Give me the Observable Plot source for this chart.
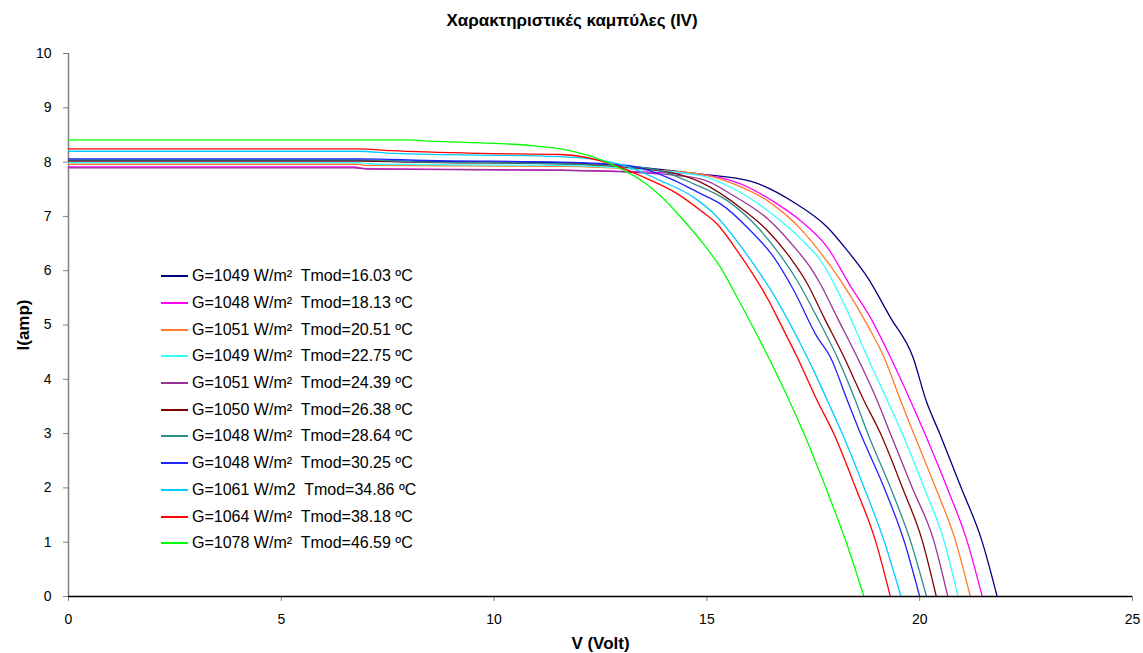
<!DOCTYPE html>
<html>
<head>
<meta charset="utf-8">
<script src="https://cdn.jsdelivr.net/npm/d3@7"></script>
<script src="https://cdn.jsdelivr.net/npm/@observablehq/plot@0.6"></script>
<style>
  html, body { margin: 0; padding: 0; background: #fff; }
  #wrap { position: relative; width: 1143px; height: 653px; font-family: "Liberation Sans", Arial, sans-serif; }
  #title { position: absolute; top: 11px; left: 0; width: 1144px; text-align: center; font-weight: bold; font-size: 17px; color: #000; }
  #legend { position: absolute; left: 161px; top: 263px; }
  .row { height: 26.7px; display: flex; align-items: center; font-size: 16px; color: #000; white-space: pre; }
  .sw { width: 27px; height: 2px; margin-right: 4px; }
  #chart svg g[aria-label="x-axis label"] text, #chart svg g[aria-label="y-axis label"] text { font-weight: bold; font-size: 17px; }
</style>
</head>
<body>
<div id="wrap">
  <div id="chart"></div>
  <div id="title">Χαρακτηριστικές καμπύλες (IV)</div>
  <div id="legend"></div>
</div>
<script>
// Series labels and colours (legend order)
const labels = [
  "G=1049 W/m²  Tmod=16.03 ºC",
  "G=1048 W/m²  Tmod=18.13 ºC",
  "G=1051 W/m²  Tmod=20.51 ºC",
  "G=1049 W/m²  Tmod=22.75 ºC",
  "G=1051 W/m²  Tmod=24.39 ºC",
  "G=1050 W/m²  Tmod=26.38 ºC",
  "G=1048 W/m²  Tmod=28.64 ºC",
  "G=1048 W/m²  Tmod=30.25 ºC",
  "G=1061 W/m2  Tmod=34.86 ºC",
  "G=1064 W/m²  Tmod=38.18 ºC",
  "G=1078 W/m²  Tmod=46.59 ºC"
];
const colors = ["#000080", "#ff00ff", "#ff7a2a", "#33ffff", "#993399", "#800000", "#2b8f8f", "#2222ff", "#00ccff", "#ff0000", "#00ff00"];

// Voltage (V) and current (A) for each curve
const v1603 = [0, 6.86, 8.43, 11.56, 13.5, 14.85, 16.02, 17.04, 17.83, 18.30, 18.77, 19.31, 19.84, 20.15, 20.47, 20.97, 21.46, 21.82];
const i1603 = [8.03, 8.03, 8.01, 7.99, 7.90, 7.78, 7.65, 7.26, 6.80, 6.37, 5.88, 5.14, 4.41, 3.61, 3.00, 2.01, 1.03, 0];

const v1813 = [0, 6.7, 7.0, 10.0, 11.56, 13.5, 14.85, 15.79, 16.65, 17.2, 17.83, 18.37, 18.84, 19.31, 19.78, 20.12, 20.64, 21.11, 21.47];
const i1813 = [7.91, 7.91, 7.88, 7.86, 7.85, 7.82, 7.77, 7.60, 7.23, 6.92, 6.43, 5.72, 5.14, 4.41, 3.61, 3.00, 2.01, 1.03, 0];

const v2051 = [0, 6.8, 7.0, 11.56, 13.5, 14.85, 15.63, 16.42, 17.2, 17.63, 18.14, 18.80, 19.16, 19.55, 19.86, 20.37, 20.84, 21.19];
const i2051 = [7.96, 7.96, 7.94, 7.92, 7.86, 7.78, 7.60, 7.29, 6.77, 6.37, 5.82, 4.96, 4.41, 3.61, 3.00, 2.01, 1.03, 0];

const v2275 = [0, 6.8, 7.2, 11.56, 13.5, 14.85, 15.63, 16.57, 17.2, 17.67, 18.37, 18.77, 19.24, 19.59, 20.1, 20.57, 20.9];
const i2275 = [7.99, 7.99, 7.96, 7.94, 7.86, 7.75, 7.51, 7.02, 6.59, 6.19, 5.14, 4.41, 3.61, 3.00, 2.01, 1.03, 0];

const v2439 = [0, 6.7, 7.0, 11.56, 13.5, 14.85, 15.63, 16.42, 16.96, 17.43, 17.67, 18.06, 18.53, 19.0, 19.31, 19.82, 20.33, 20.66];
const i2439 = [7.895, 7.895, 7.87, 7.85, 7.80, 7.69, 7.38, 6.96, 6.52, 6.06, 5.75, 5.14, 4.41, 3.61, 3.00, 2.01, 1.03, 0];

const v2638 = [0, 6.9, 8.0, 11.56, 13.5, 14.85, 15.87, 16.42, 16.89, 17.36, 17.75, 18.22, 18.69, 19.08, 19.59, 20.06, 20.39];
const i2638 = [8.02, 8.02, 8.00, 7.97, 7.88, 7.63, 7.11, 6.74, 6.31, 5.76, 5.14, 4.41, 3.61, 3.00, 2.01, 1.03, 0];

const v2864 = [0, 6.9, 8.0, 11.56, 13.52, 14.69, 15.48, 16.26, 16.81, 17.12, 17.59, 18.06, 18.49, 18.78, 19.31, 19.78, 20.16];
const i2864 = [8.04, 8.04, 8.01, 7.97, 7.90, 7.60, 7.29, 6.74, 6.19, 5.82, 5.14, 4.41, 3.61, 3.00, 2.01, 1.03, 0];

const v3025 = [0, 6.9, 8.4, 11.56, 13.13, 14.07, 14.85, 15.32, 16.02, 16.57, 17.04, 17.59, 17.9, 18.3, 18.61, 19.16, 19.63, 20.0];
const i3025 = [8.06, 8.06, 8.03, 8.00, 7.94, 7.72, 7.42, 7.23, 6.74, 6.25, 5.64, 4.78, 4.41, 3.61, 3.00, 2.01, 1.03, 0];

const v3486 = [0, 6.8, 7.65, 11.56, 12.97, 13.91, 14.69, 15.24, 15.87, 16.65, 17.2, 17.51, 17.83, 18.18, 18.69, 19.16, 19.56];
const i3486 = [8.20, 8.20, 8.16, 8.10, 7.96, 7.66, 7.35, 6.99, 6.37, 5.45, 4.65, 4.16, 3.61, 3.00, 2.01, 1.03, 0];

const v3818 = [0, 6.78, 7.57, 9.68, 11.56, 12.73, 13.52, 14.3, 14.85, 15.24, 15.71, 16.45, 16.73, 17.12, 17.59, 17.98, 18.49, 18.96, 19.31];
const i3818 = [8.245, 8.245, 8.21, 8.16, 8.14, 7.97, 7.72, 7.42, 7.11, 6.86, 6.37, 5.45, 5.02, 4.41, 3.61, 3.00, 2.01, 1.03, 0];

const v4659 = [0, 7.87, 8.66, 10.78, 11.56, 12.34, 12.97, 13.52, 13.91, 14.46, 14.85, 15.32, 15.75, 16.73, 17.28, 17.79, 18.26, 18.69];
const i4659 = [8.41, 8.41, 8.38, 8.31, 8.245, 8.09, 7.88, 7.63, 7.38, 6.92, 6.56, 6.06, 5.45, 3.95, 3.00, 2.01, 1.03, 0];

const xTicks = [0, 5, 10, 15, 20, 25];
const yTicks = [0, 1, 2, 3, 4, 5, 6, 7, 8, 9, 10];

const seriesV = [v1603, v1813, v2051, v2275, v2439, v2638, v2864, v3025, v3486, v3818, v4659];
const seriesI = [i1603, i1813, i2051, i2275, i2439, i2638, i2864, i3025, i3486, i3818, i4659];

const data = labels.flatMap((s, k) => seriesV[k].map((v, j) => ({series: s, V: v, I: seriesI[k][j]})));

const chart = Plot.plot({
  width: 1143,
  height: 653,
  marginLeft: 68,
  marginRight: 11,
  marginTop: 53,
  marginBottom: 57,
  style: {fontFamily: "'Liberation Sans', Arial, sans-serif", fontSize: "14px", color: "#000", background: "#fff"},
  x: {domain: [0, 25]},
  y: {domain: [0, 10]},
  color: {domain: labels, range: colors},
  marks: [
    Plot.axisX({ticks: xTicks, tickSize: 5, tickPadding: 13, fontSize: 14, stroke: "#808080", label: "V (Volt)", labelAnchor: "center", labelArrow: false, labelOffset: 52}),
    Plot.axisY({ticks: yTicks, tickSize: 5, tickPadding: 12, fontSize: 14, stroke: "#808080", label: "I(amp)", labelAnchor: "center", labelArrow: false, labelOffset: 52}),
    Plot.ruleX([0], {stroke: "#808080", strokeWidth: 1.5}),
    Plot.line(data, {x: "V", y: "I", z: "series", stroke: "series", strokeWidth: 1.3, curve: "monotone-x"}),
    Plot.ruleY([0], {stroke: "#000", strokeWidth: 1.3})
  ]
});
document.getElementById("chart").appendChild(chart);

const leg = document.getElementById("legend");
labels.forEach((s, k) => {
  const row = document.createElement("div");
  row.className = "row";
  const sw = document.createElement("span");
  sw.className = "sw";
  sw.style.background = colors[k];
  const t = document.createElement("span");
  t.textContent = s;
  row.appendChild(sw);
  row.appendChild(t);
  leg.appendChild(row);
});
</script>
</body>
</html>
